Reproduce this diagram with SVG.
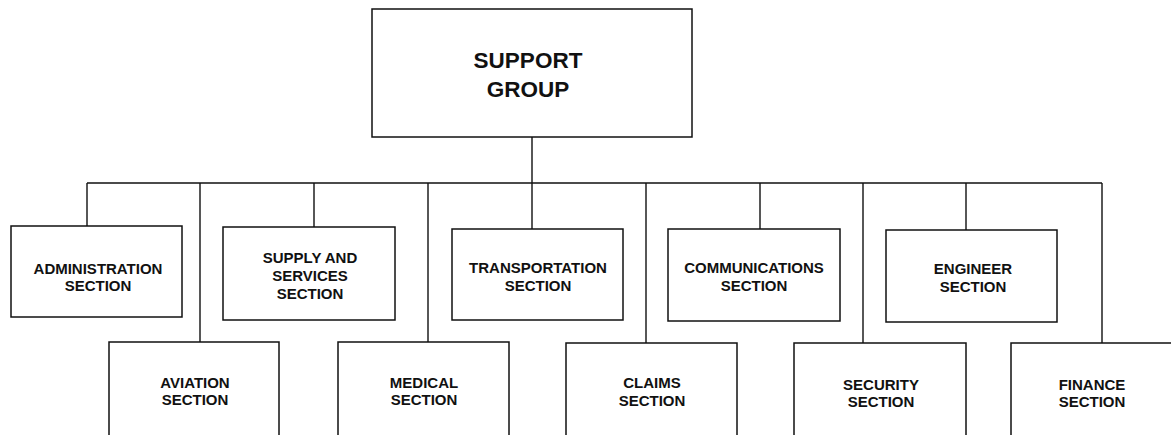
<svg xmlns="http://www.w3.org/2000/svg" width="1171" height="435" viewBox="0 0 1171 435">
<style>
.box{fill:#fff;stroke:#111;stroke-width:1.5}
.ln{stroke:#111;stroke-width:1.4;fill:none}
text{font-family:"Liberation Sans",Arial,sans-serif;font-weight:bold;font-size:15px;fill:#111;text-anchor:middle}
.big{font-size:22.5px}
</style>
<rect width="1171" height="435" fill="#fff"/>
<g id="connectors">
<path class="ln" d="M532,137V183 M87,183H1102 M87,183V226 M200,183V342 M314,183V227 M428,183V342 M532,183V229 M646,183V343 M760,183V229 M863,183V343 M966,183V230 M1102,183V343"/>
</g>
<g id="support-group"><rect class="box" x="372" y="9" width="320" height="128"/><text class="big" x="528" y="68">SUPPORT</text><text class="big" x="528" y="97">GROUP</text></g>
<g id="administration"><rect class="box" x="11" y="226" width="171" height="91"/><text x="98" y="274">ADMINISTRATION</text><text x="98" y="291">SECTION</text></g>
<g id="supply"><rect class="box" x="223" y="227" width="172" height="93"/><text x="310" y="263">SUPPLY AND</text><text x="310" y="281">SERVICES</text><text x="310" y="299">SECTION</text></g>
<g id="transportation"><rect class="box" x="452" y="229" width="171" height="91"/><text x="538" y="273">TRANSPORTATION</text><text x="538" y="291">SECTION</text></g>
<g id="communications"><rect class="box" x="668" y="229" width="172" height="92"/><text x="754" y="273">COMMUNICATIONS</text><text x="754" y="291">SECTION</text></g>
<g id="engineer"><rect class="box" x="886" y="230" width="171" height="92"/><text x="973" y="274">ENGINEER</text><text x="973" y="292">SECTION</text></g>
<g id="aviation"><rect class="box" x="109" y="342" width="170" height="100"/><text x="195" y="388">AVIATION</text><text x="195" y="405">SECTION</text></g>
<g id="medical"><rect class="box" x="338" y="342" width="171" height="100"/><text x="424" y="388">MEDICAL</text><text x="424" y="405">SECTION</text></g>
<g id="claims"><rect class="box" x="566" y="343" width="171" height="100"/><text x="652" y="388">CLAIMS</text><text x="652" y="406">SECTION</text></g>
<g id="security"><rect class="box" x="794" y="343" width="172" height="100"/><text x="881" y="390">SECURITY</text><text x="881" y="407">SECTION</text></g>
<g id="finance"><rect class="box" x="1011" y="343" width="172" height="100"/><text x="1092" y="390">FINANCE</text><text x="1092" y="407">SECTION</text></g>
</svg>
